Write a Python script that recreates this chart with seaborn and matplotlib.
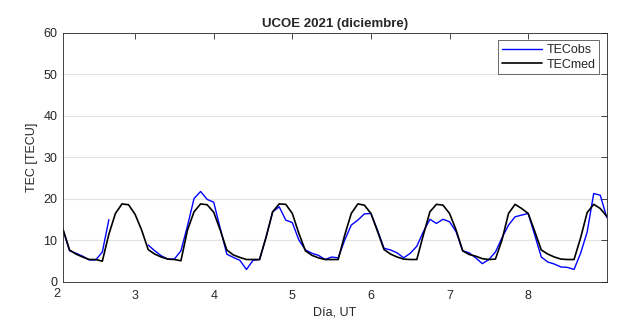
import numpy as np
import pandas as pd
import seaborn as sns
import matplotlib.pyplot as plt
import matplotlib.transforms as mtransforms

# 2-hourly samples, day 2 02:00 UT -> day 9 00:00 UT
hours = np.arange(1, 85)
dia = 2 + hours / 12

tec_med = [12.7, 7.7, 6.7, 6.0, 5.4, 5.4, 5.0, 11.5, 16.5, 18.8, 18.6, 16.3,
           12.5, 7.8, 6.7, 6.0, 5.5, 5.4, 5.1, 12.5, 16.9, 18.8, 18.6, 16.8,
           12.5, 7.7, 6.5, 5.9, 5.4, 5.4, 5.4, 10.8, 16.9, 18.8, 18.7, 16.5,
           11.7, 7.5, 6.4, 5.8, 5.4, 5.4, 5.4, 11.3, 16.5, 18.8, 18.5, 16.5,
           12.2, 7.8, 6.7, 6.0, 5.5, 5.4, 5.4, 11.3, 16.9, 18.7, 18.5, 16.5,
           12.5, 7.5, 6.6, 6.2, 5.6, 5.4, 5.5, 10.1, 16.5, 18.7, 17.7, 16.5,
           12.2, 7.7, 6.7, 6.0, 5.5, 5.4, 5.4, 10.6, 16.7, 18.7, 17.7, 15.8]

tec_obs = [12.5, 7.5, 6.9, 6.2, 5.3, 5.3, 7.2, 15.0, np.nan, np.nan, np.nan, np.nan,
           np.nan, 8.9, 7.5, 6.3, 5.5, 5.5, 7.5, 13.5, 20.1, 21.8, 19.9, 19.2,
           12.9, 6.7, 5.9, 5.2, 3.0, 5.2, 5.4, 10.8, 16.9, 18.1, 14.9, 14.3,
           10.1, 7.7, 6.9, 6.4, 5.4, 6.0, 5.8, 10.1, 13.7, 14.9, 16.4, 16.5,
           12.5, 8.1, 7.7, 7.0, 5.8, 6.9, 8.6, 12.1, 15.1, 14.1, 15.1, 14.5,
           12.1, 7.5, 7.0, 5.8, 4.4, 5.4, 7.2, 10.6, 13.7, 15.7, 16.1, 16.5,
           11.3, 6.0, 4.8, 4.3, 3.6, 3.5, 3.0, 6.9, 12.0, 21.3, 20.9, 15.5]

df = pd.DataFrame({'dia': dia, 'obs': tec_obs, 'med': tec_med})
# split observed series where data is missing so the gap stays visible
df['seg'] = df['obs'].isna().cumsum()
obs = df.dropna(subset=['obs'])

sns.set_style('white')
plt.rcParams['font.family'] = ['Liberation Sans', 'DejaVu Sans']
plt.rcParams['font.size'] = 9

fig = plt.figure(figsize=(6.39, 3.2), dpi=100)
ax = fig.add_axes([0.0986, 0.119, 0.851, 0.778])

ax.yaxis.grid(True, color='#e3e3e3', linewidth=0.8)
ax.set_axisbelow(True)

first = True
for s, g in obs.groupby('seg'):
    sns.lineplot(data=g, x='dia', y='obs', color='#0000ff', linewidth=1.0,
                 label='TECobs' if first else None, ax=ax, legend=False)
    first = False
sns.lineplot(data=df, x='dia', y='med', color='black', linewidth=1.2,
             label='TECmed', ax=ax, legend=False)

ax.set_xlim(2 + 1 / 12, 9)
ax.set_ylim(0, 60)
ax.set_xticks([3, 4, 5, 6, 7, 8])
ax.set_yticks(np.arange(0, 61, 10))
ax.tick_params(direction='in', length=4, width=0.6, colors='#262626',
               top=True, right=True, labelsize=9)
ax.tick_params(axis='x', pad=6)
ax.tick_params(axis='y', pad=4)
trans = mtransforms.blended_transform_factory(ax.transData, ax.transAxes)
ax.text(2.0, -0.026, '2', transform=trans, ha='center', va='top',
        fontsize=9, color='#262626', clip_on=False)

for sp in ax.spines.values():
    sp.set_color('#262626')
    sp.set_linewidth(0.6)

ax.set_xlabel('Día, UT', fontsize=9, color='#262626', labelpad=3)
ax.set_ylabel('TEC [TECU]', fontsize=9, color='#262626', labelpad=4)
ax.set_title('UCOE 2021 (diciembre)', fontsize=9.5, fontweight='bold', pad=4)

leg = ax.legend(loc='upper right', fontsize=9, frameon=True, fancybox=False,
                handlelength=3.2, borderpad=0.3, labelspacing=0.2,
                handletextpad=0.4, borderaxespad=0.6)
leg.get_frame().set_edgecolor('#262626')
leg.get_frame().set_linewidth(0.6)

fig.savefig('out.png', dpi=100)
